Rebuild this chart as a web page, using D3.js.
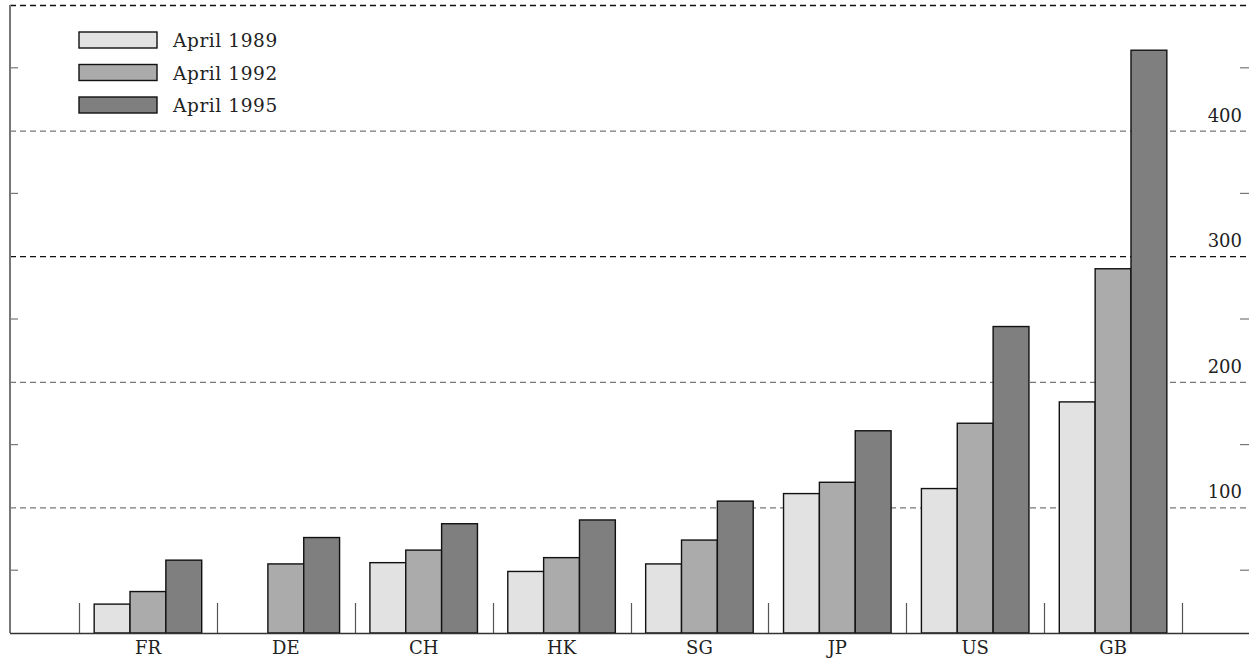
<!DOCTYPE html>
<html>
<head>
<meta charset="utf-8">
<script src="https://cdn.jsdelivr.net/npm/d3@7"></script>
<style>
  body { margin: 0; background: #fff; }
  text { font-family: "DejaVu Serif", serif; fill: #222; }
</style>
</head>
<body>
<div id="chart"></div>
<script>
// Data
const countries = ['FR', 'DE', 'CH', 'HK', 'SG', 'JP', 'US', 'GB']
const seriesNames = ['April 1989', 'April 1992', 'April 1995']
const april1989 = [23, 0, 56, 49, 55, 111, 115, 184]
const april1992 = [33, 55, 66, 60, 74, 120, 167, 290]
const april1995 = [58, 76, 87, 90, 105, 161, 244, 464]
const gridValues = [100, 200, 300, 400, 500]
const minorValues = [50, 150, 250, 350, 450]
const labelValues = [100, 200, 300, 400]
const colors = ['#e2e2e2', '#ababab', '#7f7f7f']

const dataset = countries.map((c, i) => ({
  name: c,
  values: [april1989[i], april1992[i], april1995[i]]
}))

// Dimensions
const dimensions = { width: 1249, height: 662, left: 10, right: 1249, top: 5, bottom: 633 }

const svg = d3.select('#chart')
  .append('svg')
  .attr('width', dimensions.width)
  .attr('height', dimensions.height)

// Scales
const yScale = d3.scaleLinear()
  .domain([0, 500])
  .range([dimensions.bottom, dimensions.top])

const xScale = d3.scaleBand()
  .domain(countries)
  .range([79, 1182])

const bw = xScale.bandwidth()
const subScale = d3.scaleBand()
  .domain(seriesNames)
  .range([bw * 0.11, bw * 0.89])

// Grid lines
svg.append('g')
  .selectAll('line')
  .data(gridValues)
  .join('line')
  .attr('x1', dimensions.left)
  .attr('x2', dimensions.right)
  .attr('y1', d => yScale(d) + 0.5)
  .attr('y2', d => yScale(d) + 0.5)
  .attr('stroke', d => (d === 300 || d === 500) ? '#111' : '#777')
  .attr('stroke-width', 1.3)
  .attr('stroke-dasharray', '6,4')

// minor ticks left and right
const minor = svg.append('g')
minor.selectAll('.lt')
  .data(minorValues)
  .join('line')
  .attr('x1', dimensions.left)
  .attr('x2', dimensions.left + 8)
  .attr('y1', d => yScale(d))
  .attr('y2', d => yScale(d))
  .attr('stroke', '#777')
  .attr('stroke-width', 1.2)
minor.selectAll('.rt')
  .data(minorValues)
  .join('line')
  .attr('x1', dimensions.right - 9)
  .attr('x2', dimensions.right)
  .attr('y1', d => yScale(d))
  .attr('y2', d => yScale(d))
  .attr('stroke', '#777')
  .attr('stroke-width', 1.2)

// right-hand labels
svg.append('g')
  .selectAll('text')
  .data(labelValues)
  .join('text')
  .attr('x', 1242)
  .attr('y', d => yScale(d) - 9)
  .attr('text-anchor', 'end')
  .style('font-size', '18px')
  .text(d => d)

// Bars
const groups = svg.append('g')
  .selectAll('g')
  .data(dataset)
  .join('g')
  .attr('transform', d => `translate(${xScale(d.name)},0)`)

groups.selectAll('rect')
  .data(d => d.values.map((v, i) => ({ key: seriesNames[i], value: v, i })).filter(e => e.value > 0))
  .join('rect')
  .attr('x', d => subScale(d.key))
  .attr('y', d => yScale(d.value))
  .attr('width', subScale.bandwidth())
  .attr('height', d => yScale(0) - yScale(d.value))
  .attr('fill', d => colors[d.i])
  .attr('stroke', '#111')
  .attr('stroke-width', 1.4)

// separators between groups
svg.append('g')
  .selectAll('line')
  .data(countries.map(c => xScale(c)).concat([xScale.range()[1]]))
  .join('line')
  .attr('x1', d => Math.round(d) + 0.5)
  .attr('x2', d => Math.round(d) + 0.5)
  .attr('y1', yScale(0))
  .attr('y2', yScale(0) - 30)
  .attr('stroke', '#555')
  .attr('stroke-width', 1.2)

// Axes lines
svg.append('line')
  .attr('x1', dimensions.left).attr('x2', dimensions.left)
  .attr('y1', dimensions.top).attr('y2', dimensions.bottom)
  .attr('stroke', '#777').attr('stroke-width', 2)

svg.append('line')
  .attr('x1', dimensions.left).attr('x2', dimensions.right)
  .attr('y1', dimensions.bottom + 0.5).attr('y2', dimensions.bottom + 0.5)
  .attr('stroke', '#333').attr('stroke-width', 1.6)

// x axis labels
const xAxis = d3.axisBottom(xScale).tickSize(0).tickPadding(8)
const xAxisGroup = svg.append('g')
  .attr('transform', `translate(0,${dimensions.bottom})`)
  .call(xAxis)
xAxisGroup.select('.domain').remove()
xAxisGroup.selectAll('text')
  .style('font-size', '18px')
  .style('font-family', '"DejaVu Serif", serif')
  .attr('fill', '#222')

// Legend
const legend = svg.append('g')
  .selectAll('g')
  .data(seriesNames)
  .join('g')
  .attr('transform', (d, i) => `translate(79,${32 + i * 32.5})`)

legend.append('rect')
  .attr('width', 78)
  .attr('height', 16)
  .attr('fill', (d, i) => colors[i])
  .attr('stroke', '#111')
  .attr('stroke-width', 1.4)

legend.append('text')
  .attr('x', 94)
  .attr('y', 15)
  .style('font-size', '18.5px')
  .style('letter-spacing', '0.6px')
  .text(d => d)
</script>
</body>
</html>
